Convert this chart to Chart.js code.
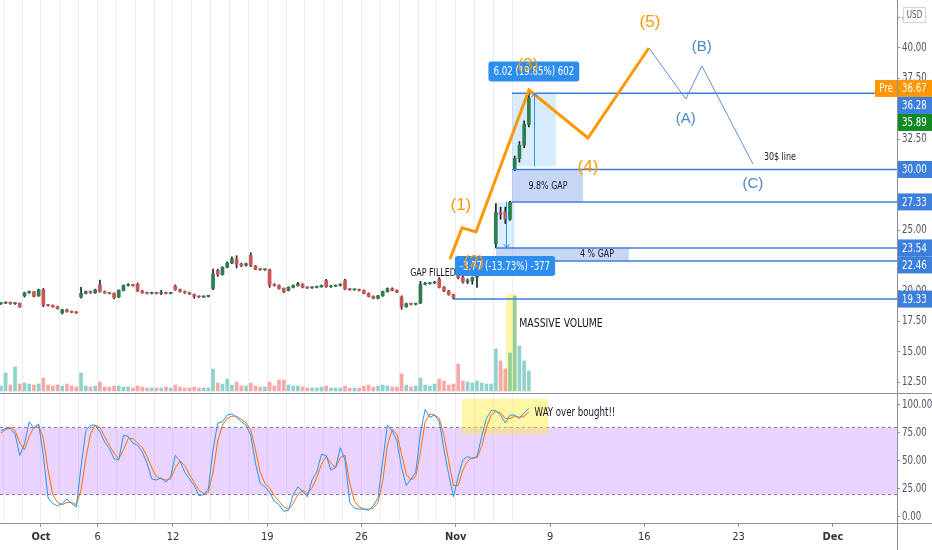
<!DOCTYPE html>
<html>
<head>
<meta charset="utf-8">
<script src="https://cdn.jsdelivr.net/npm/chart.js@4.4.0/dist/chart.umd.min.js"></script>
<style>
  html, body { margin: 0; padding: 0; background: #fff; }
  #wrap { width: 932px; height: 550px; position: relative; }
</style>
</head>
<body>
<div id="wrap"><canvas id="chart"></canvas></div>
<script>
const NARROW = "'DejaVu Sans Condensed', 'DejaVu Sans', sans-serif";
const WAVE_FONT = "'Liberation Sans', Arial, sans-serif";
const SQUEEZE = 0.8;

// x axis = trading-day index (0 = Oct 1, weekends and Thanksgiving skipped)
const tickDays = [0, 3, 7, 12, 17, 22, 27, 32, 37, 42];
const tickLabels = ['Oct', '6', '12', '19', '26', 'Nov', '9', '16', '23', 'Dec'];
const priceTicks = [12.5, 15, 17.5, 20, 22.5, 25, 27.5, 30, 32.5, 35, 37.5, 40, 42.5];
const stochTicks = [0, 25, 50, 75, 100];

// four bars per session, first bar is the last one of Sep 28
const firstBar = -2.125, barStep = 0.25;

const opens = [
  18.95, 19.0, 19.05, 18.95, 19.0,
  19.6, 19.85, 19.95, 19.6,   20.1, 18.85, 18.8, 18.7,   18.2, 18.45, 18.3, 18.25,
  19.5, 19.8, 19.95, 19.85,   20.5, 19.95, 19.85, 19.8,  19.5, 20.05, 20.45, 20.5,
  20.55, 20.0, 19.85, 19.8,   19.85, 19.8, 19.85, 19.8,  20.4, 20.1, 19.95, 19.85,
  19.7, 19.55, 19.5, 19.55,   20.2, 21.7, 21.35, 21.95,  22.3, 22.65, 22.2, 22.1,
  22.95, 22.05, 21.8, 21.75,  21.75, 20.5, 20.45, 20.2,  20.05, 20.3, 20.45, 20.55,
  20.3, 20.25, 20.3, 20.35,   20.85, 20.35, 20.4, 20.45, 20.85, 20.15, 20.1, 20.1,
  20.05, 19.8, 19.55, 19.4,   19.6, 19.95, 20.2, 20.05,  19.5, 18.7, 18.95, 18.9,
  19.0, 20.55, 20.6, 20.65,   20.95, 20.3, 20.0, 19.7,   21.4, 21.1, 20.75, 20.85,
  21.1, 21.5, 21.75, 21.95,   23.9, 26.45, 26.5, 25.9,   30.0, 30.9, 32.0, 33.7
];
const highs = [
  19.05, 19.1, 19.1, 19.05, 19.0,
  19.9, 20.0, 19.95, 20.15,   20.2, 18.9, 18.85, 18.75,  18.5, 18.5, 18.35, 18.3,
  20.3, 20.0, 20.0, 20.15,    20.9, 20.0, 19.9, 19.85,   20.1, 20.5, 20.6, 20.55,
  20.65, 20.05, 19.9, 19.9,   19.9, 20.05, 19.9, 19.85,  20.5, 20.15, 20.0, 19.9,
  19.75, 19.6, 19.6, 19.65,   21.8, 21.8, 22.0, 22.4,    22.8, 22.9, 22.3, 22.3,
  23.15, 22.1, 21.85, 21.8,   21.8, 20.6, 20.5, 20.25,   20.35, 20.5, 20.7, 20.6,
  20.35, 20.35, 20.4, 20.5,   20.95, 20.45, 20.5, 20.6,  20.95, 20.2, 20.15, 20.15,
  20.1, 19.85, 19.6, 19.65,   20.0, 20.25, 20.25, 20.1,  19.6, 19.0, 19.0, 19.0,
  20.8, 20.7, 20.7, 20.8,     21.1, 20.35, 20.05, 19.75, 22.5, 21.2, 21.0, 21.15,
  21.6, 21.8, 22.0, 22.1,     27.2, 26.9, 26.9, 27.4,    31.1, 32.3, 34.0, 36.5
];
const lows = [
  18.9, 18.95, 18.9, 18.9, 18.65,
  19.5, 19.8, 19.5, 19.55,    18.7, 18.75, 18.65, 18.5,  18.1, 18.25, 18.2, 18.15,
  19.4, 19.75, 19.8, 19.8,    19.9, 19.8, 19.75, 19.35,  19.45, 20.0, 20.4, 20.4,
  19.95, 19.8, 19.75, 19.75,  19.75, 19.7, 19.75, 19.75, 20.05, 19.9, 19.8, 19.7,
  19.4, 19.45, 19.45, 19.5,   20.1, 21.2, 21.3, 21.9,    22.25, 21.9, 22.0, 22.05,
  22.0, 21.75, 21.7, 21.7,    20.3, 20.4, 20.15, 19.85,  20.0, 20.25, 20.4, 20.25,
  20.2, 20.2, 20.25, 20.3,    20.3, 20.3, 20.35, 20.4,   20.1, 20.05, 20.05, 20.0,
  19.75, 19.5, 19.35, 19.35,  19.55, 19.9, 20.0, 19.85,  18.5, 18.65, 18.85, 18.85,
  18.95, 20.5, 20.55, 20.6,   20.25, 19.95, 19.65, 19.33, 21.0, 20.65, 20.6, 20.55,
  20.3, 21.45, 21.7, 21.85,   23.55, 25.9, 25.55, 25.8,  29.9, 30.6, 31.8, 33.5
];
const closes = [
  19.0, 19.05, 18.95, 19.0, 18.7,
  19.85, 19.95, 19.55, 20.1,  18.85, 18.8, 18.7, 18.55,  18.45, 18.3, 18.25, 18.2,
  19.8, 19.95, 19.85, 20.1,   19.95, 19.85, 19.8, 19.45, 20.05, 20.45, 20.5, 20.45,
  20.0, 19.85, 19.8, 19.85,   19.8, 19.85, 19.8, 19.8,   20.1, 19.95, 19.85, 19.75,
  19.55, 19.5, 19.55, 19.6,   21.4, 21.35, 21.95, 22.3,  22.65, 22.2, 22.1, 22.25,
  22.1, 21.8, 21.75, 21.75,   20.5, 20.45, 20.2, 19.95,  20.3, 20.45, 20.6, 20.3,
  20.25, 20.3, 20.35, 20.45,  20.35, 20.4, 20.45, 20.55, 20.15, 20.1, 20.1, 20.05,
  19.8, 19.55, 19.4, 19.6,    19.95, 20.2, 20.05, 19.9,  18.7, 18.95, 18.9, 18.95,
  20.55, 20.6, 20.65, 20.7,   20.3, 20.0, 19.7, 19.45,   21.1, 20.75, 20.85, 21.1,
  21.5, 21.75, 21.95, 22.0,   26.45, 26.3, 25.9, 27.3,   30.9, 32.0, 33.7, 35.89
];
const volumes = [
  5, 18, 6, 24, 7,
  8, 7, 6, 7,     13, 6, 5, 6,    5, 7, 5, 4,     18, 5, 4, 5,    9, 4, 4, 5,
  5, 4, 4, 3,     5, 4, 3, 3,     3, 3, 4, 3,     6, 4, 3, 3,     4, 3, 3, 3,
  22, 8, 7, 12,   6, 9, 5, 5,     8, 5, 4, 4,     9, 5, 11, 11,   6, 5, 5, 4,
  3, 3, 3, 4,     5, 3, 3, 3,     5, 3, 3, 3,     5, 6, 4, 5,     6, 5, 4, 4,
  17, 6, 4, 5,    13, 6, 5, 7,    12, 10, 6, 7,   27, 10, 9, 8,   10, 8, 7, 7,
  42, 30, 22, 38, 95, 45, 30, 20
];
const stochK = [
  77, 79, 79, 74, 55,
  65, 85, 79, 83,  55, 17, 12, 10,  12, 16, 12, 9,   45, 77, 82, 82,  76, 67, 61, 52,
  51, 73, 72, 66,  64, 58, 48, 34,  33, 35, 31, 36,  55, 50, 40, 34,  28, 19, 20, 25,
  60, 84, 85, 91,  92, 89, 85, 82,  73, 48, 30, 27,  22, 14, 11, 5,   6, 20, 27, 23,
  18, 33, 40, 56,  55, 42, 44, 62,  51, 13, 8, 7,    7, 6, 10, 17,   50, 82, 77, 68,
  44, 28, 34, 40,  75, 96, 89, 91,  85, 60, 38, 18,  36, 51, 54, 52,  54, 72, 88, 95,
  95, 91, 84, 91,  91, 88, 93, 97
];
const stochD = [
  75, 78, 80, 77, 66,
  60, 72, 80, 82,  70, 42, 20, 13,  11, 13, 13, 11,  24, 52, 74, 82,  80, 72, 64, 57,
  52, 60, 70, 70,  66, 62, 54, 44,  36, 34, 33, 34,  44, 50, 46, 38,  31, 24, 21, 22,
  40, 68, 82, 88,  90, 90, 87, 84,  78, 60, 40, 30,  26, 19, 14, 9,   7, 12, 20, 24,
  21, 26, 35, 47,  54, 48, 44, 53,  55, 30, 14, 9,   7, 7, 8, 13,    32, 64, 78, 74,
  56, 38, 33, 36,  58, 85, 92, 91,  88, 72, 50, 28,  28, 42, 50, 53,  53, 63, 80, 91,
  94, 93, 88, 88,  90, 89, 90, 94
];

// drawings: Elliott count, ABC correction, horizontal rays
const waveX = [21.69, 22.33, 23.07, 25.88, 29.01, 32.24];
const waveY = [22.63, 25.19, 24.86, 36.54, 32.59, 40.0];
const abcX = [32.24, 34.2, 35.05, 37.76];
const abcY = [40.0, 35.8, 38.52, 30.45];
const levels = [36.28, 30.00, 27.33, 23.54, 22.46, 19.33];
const levelFrom = [24.98, 24.98, 24.98, 24.13, 24.13, 21.9];
const lastClose = 35.89, prePrice = 36.67;

const X_MIN = -2.174, X_MAX = 45.4;

// boxes, notes and labels, in data units
const rects = [
  { x: [24.98, 27.31], y: [30.26, 36.28], axis: 'y', fill: 'rgba(33,150,243,0.18)' },
  { x: [24.98, 28.74], y: [27.33, 30.00], axis: 'y', fill: 'rgba(66,120,220,0.30)' },
  { x: [24.13, 25.14], y: [23.54, 27.33], axis: 'y', fill: 'rgba(33,150,243,0.15)' },
  { x: [24.13, 31.18], y: [22.46, 23.54], axis: 'y', fill: 'rgba(66,120,220,0.30)' },
  { x: [24.66, 25.24], y: [0, 97], axis: 'yv', fill: 'rgba(255,235,59,0.45)' },
  { x: [22.33, 26.89], y: [74.1, 105.4], axis: 'ys', fill: 'rgba(255,235,59,0.45)' }
];
const arrows = [
  { x: 26.14, from: 30.26, to: 36.28 },
  { x: 24.66, from: 27.33, to: 23.54 }
];
const pills = [
  { t: '6.02 (19.85%) 602', x: 26.14, y: 38.07 },
  { t: '-3.77 (-13.73%) -377', x: 24.61, y: 22.06 }
];
const notes = [
  { t: '(1)', x: 22.27, y: 27.08, axis: 'y', kind: 'wave' },
  { t: '(2)', x: 22.96, y: 22.39, axis: 'y', kind: 'wave' },
  { t: '(3)', x: 25.83, y: 38.6, axis: 'y', kind: 'wave' },
  { t: '(4)', x: 29.01, y: 30.21, axis: 'y', kind: 'wave' },
  { t: '(5)', x: 32.3, y: 42.14, axis: 'y', kind: 'wave' },
  { t: '(A)', x: 34.2, y: 34.16, axis: 'y', kind: 'abc' },
  { t: '(B)', x: 35.05, y: 40.08, axis: 'y', kind: 'abc' },
  { t: '(C)', x: 37.76, y: 28.8, axis: 'y', kind: 'abc' },
  { t: '30$ line', x: 39.19, y: 31.03, axis: 'y', size: 11 },
  { t: 'GAP FILLED', x: 20.79, y: 21.48, axis: 'y', size: 11 },
  { t: '9.8% GAP', x: 26.89, y: 28.64, axis: 'y', size: 11 },
  { t: '4 % GAP', x: 29.49, y: 23.05, axis: 'y', size: 11 },
  { t: 'MASSIVE VOLUME', x: 27.58, y: 67, axis: 'yv', size: 13 },
  { t: 'WAY over bought!!', x: 28.32, y: 92.9, axis: 'ys', size: 12 }
];

const times = closes.map((_, i) => firstBar + i * barStep);
const up = closes.map((c, i) => c >= opens[i]);
const pts = (xs, ys) => xs.map((x, i) => ({ x, y: ys[i] }));

// narrow text: the chart font is a condensed face, so squeeze it horizontally
function narrowText(ctx, text, x, y, align) {
  ctx.save();
  ctx.translate(x, y);
  ctx.scale(SQUEEZE, 1);
  ctx.textAlign = align || 'center';
  ctx.fillText(text, 0, 0);
  ctx.restore();
}

const overlay = {
  id: 'overlay',
  beforeDatasetsDraw(chart) {
    const { ctx, chartArea: a, scales } = chart;
    const sx = scales.x;
    ctx.save();
    const t = scales.ys.getPixelForValue(80), b = scales.ys.getPixelForValue(20);
    ctx.fillStyle = 'rgba(178,102,255,0.28)';
    ctx.fillRect(a.left, t, a.width, b - t);
    ctx.strokeStyle = '#787b86';
    ctx.lineWidth = 1;
    ctx.setLineDash([3, 3]);
    [t, b].forEach(yy => {
      ctx.beginPath(); ctx.moveTo(a.left, yy); ctx.lineTo(a.right, yy); ctx.stroke();
    });
    ctx.setLineDash([]);
    rects.forEach(r => {
      const s = scales[r.axis];
      const x0 = sx.getPixelForValue(r.x[0]), x1 = sx.getPixelForValue(r.x[1]);
      const y0 = s.getPixelForValue(r.y[1]), y1 = s.getPixelForValue(r.y[0]);
      ctx.fillStyle = r.fill;
      ctx.fillRect(x0, y0, x1 - x0, y1 - y0);
    });
    ctx.restore();
  },
  afterDatasetsDraw(chart) {
    const { ctx, scales } = chart;
    const sx = scales.x;
    ctx.save();
    ctx.strokeStyle = '#2196f3';
    ctx.lineWidth = 1;
    arrows.forEach(r => {
      const x = Math.round(sx.getPixelForValue(r.x)) + 0.5;
      const y0 = scales.y.getPixelForValue(r.from), y1 = scales.y.getPixelForValue(r.to);
      const d = y1 > y0 ? -1 : 1;
      ctx.beginPath(); ctx.moveTo(x, y0); ctx.lineTo(x, y1); ctx.stroke();
      ctx.beginPath(); ctx.moveTo(x - 3, y1 + d * 4); ctx.lineTo(x, y1); ctx.lineTo(x + 3, y1 + d * 4); ctx.stroke();
    });
    ctx.textBaseline = 'middle';
    ctx.font = '12px ' + NARROW;
    pills.forEach(p => {
      const x = sx.getPixelForValue(p.x), y = scales.y.getPixelForValue(p.y);
      const w = ctx.measureText(p.t).width * SQUEEZE + 10;
      ctx.fillStyle = '#2d8ef0';
      ctx.beginPath(); ctx.roundRect(x - w / 2, y - 10, w, 20, 3); ctx.fill();
      ctx.fillStyle = '#fff';
      narrowText(ctx, p.t, x, y + 0.5);
    });
    notes.forEach(n => {
      const x = sx.getPixelForValue(n.x), y = scales[n.axis].getPixelForValue(n.y);
      if (n.kind === 'wave') {
        ctx.font = '17px ' + WAVE_FONT; ctx.fillStyle = '#ff9800';
        ctx.textAlign = 'center'; ctx.fillText(n.t, x, y);
      } else if (n.kind === 'abc') {
        ctx.font = '15px ' + WAVE_FONT; ctx.fillStyle = '#4a86c8';
        ctx.textAlign = 'center'; ctx.fillText(n.t, x, y);
      } else {
        ctx.font = n.size + 'px ' + NARROW; ctx.fillStyle = '#131722';
        narrowText(ctx, n.t, x, y);
      }
    });
    ctx.restore();
  },
  afterDraw(chart) {
    const { ctx, scales, width, height } = chart;
    const sy = scales.y;
    ctx.save();
    ctx.strokeStyle = '#8d9099';
    ctx.lineWidth = 1;
    [sy.bottom, scales.ys.bottom].forEach(yy => {
      const y = Math.round(yy) + 0.5;
      ctx.beginPath(); ctx.moveTo(0, y); ctx.lineTo(width, y); ctx.stroke();
    });
    const ax = Math.round(sy.left) + 0.5;
    ctx.beginPath(); ctx.moveTo(ax, 0); ctx.lineTo(ax, height); ctx.stroke();

    // tick labels of both price panes, placed from the scales' own ticks
    ctx.font = '12px ' + NARROW;
    ctx.textBaseline = 'middle';
    ctx.fillStyle = '#50535e';
    [sy, scales.ys].forEach(s => {
      s.ticks.forEach(tk => narrowText(ctx, tk.value.toFixed(2), s.left + 5, s.getPixelForValue(tk.value), 'left'));
    });

    // price tags on the axis, pushed apart when they collide
    const tags = [{ v: prePrice, bg: '#ff9800', pre: true }, { v: lastClose, bg: '#118a24' }]
      .concat(levels.map(v => ({ v, bg: '#3d7fdc' })))
      .map(tg => ({ ...tg, y: sy.getPixelForValue(tg.v) }))
      .sort((p, q) => p.y - q.y);
    const H = 17;
    let prev = -Infinity;
    tags.forEach(tg => {
      const y = Math.max(tg.y, prev + H);
      prev = y;
      ctx.fillStyle = tg.bg;
      ctx.fillRect(sy.left + 1, y - H / 2, 34, H);
      ctx.fillStyle = '#fff';
      narrowText(ctx, tg.v.toFixed(2), sy.left + 5, y + 0.5, 'left');
      if (tg.pre) {
        ctx.fillStyle = tg.bg;
        ctx.fillRect(sy.left - 22, y - H / 2, 22, H);
        ctx.fillStyle = '#fff';
        narrowText(ctx, 'Pre', sy.left - 11, y + 0.5);
      }
    });
    ctx.fillStyle = '#fff';
    ctx.strokeStyle = '#d1d4dc';
    ctx.fillRect(903, 7, 23, 16);
    ctx.strokeRect(903.5, 7.5, 22, 15);
    ctx.fillStyle = '#50535e';
    ctx.font = '10px ' + NARROW;
    narrowText(ctx, 'USD', 914.5, 15.5);
    ctx.restore();
  }
};

const levelSets = levels.map((v, i) => ({
  type: 'line', yAxisID: 'y', order: 1,
  data: [{ x: levelFrom[i], y: v }, { x: X_MAX, y: v }],
  borderColor: '#3d7fdc', borderWidth: 1.5, pointRadius: 0
}));

const sideAxis = (weight, min, max, ticks) => ({
  type: 'linear', position: 'right', stack: 'pane', stackWeight: weight, min, max,
  afterBuildTicks: s => { s.ticks = ticks.map(v => ({ value: v })); },
  ticks: { color: 'rgba(0,0,0,0)', padding: 1, font: { family: NARROW, size: 10 } },
  grid: { drawOnChartArea: false, tickLength: 3, color: '#8d9099' },
  border: { display: false },
  afterFit: s => { s.width = 35; s.paddingTop = 0; s.paddingBottom = 0; }
});

new Chart(document.getElementById('chart'), {
  type: 'bar',
  data: {
    datasets: [
      {
        label: 'Wave', type: 'line', yAxisID: 'y', order: 0,
        data: pts(waveX, waveY), borderColor: '#ff9800', borderWidth: 3, pointRadius: 0
      },
      {
        label: 'ABC', type: 'line', yAxisID: 'y', order: 0,
        data: pts(abcX, abcY), borderColor: '#5b8fd6', borderWidth: 1, pointRadius: 0
      },
      ...levelSets,
      {
        label: 'Body', yAxisID: 'y', order: 2, grouped: false,
        data: times.map((t, i) => ({ x: t, y: [Math.min(opens[i], closes[i]), Math.max(opens[i], closes[i])] })),
        backgroundColor: up.map(u => u ? '#2e7d50' : '#cc5656'),
        barThickness: 3, minBarLength: 1, borderWidth: 0
      },
      {
        label: 'Wick', yAxisID: 'y', order: 3, grouped: false,
        data: times.map((t, i) => ({ x: t, y: [lows[i], highs[i]] })),
        backgroundColor: '#1e222d', barThickness: 1, borderWidth: 0
      },
      {
        label: 'Volume', yAxisID: 'yv', order: 5, grouped: false,
        data: times.map((t, i) => ({ x: t, y: volumes[i] })),
        backgroundColor: up.map(u => u ? 'rgba(38,166,154,0.5)' : 'rgba(239,83,80,0.5)'),
        barThickness: 3, borderWidth: 0
      },
      {
        label: '%K', type: 'line', yAxisID: 'ys', order: 1,
        data: pts(times, stochK), borderColor: '#2196f3', borderWidth: 1, pointRadius: 0
      },
      {
        label: '%D', type: 'line', yAxisID: 'ys', order: 1,
        data: pts(times, stochD), borderColor: '#ff6d00', borderWidth: 1, pointRadius: 0
      }
    ]
  },
  options: {
    responsive: true,
    maintainAspectRatio: false,
    animation: false,
    events: [],
    layout: { padding: 0 },
    plugins: { legend: { display: false }, tooltip: { enabled: false } },
    scales: {
      x: {
        type: 'linear', min: X_MIN, max: X_MAX, offset: false,
        afterBuildTicks: s => {
          s.ticks = [];
          for (let d = -2; d <= 45; d++) s.ticks.push({ value: d });
        },
        ticks: {
          autoSkip: false, maxRotation: 0, padding: 4, color: '#333',
          font: c => ({ family: NARROW, size: 11, weight: c.tick && isNaN(+c.tick.label) ? 'bold' : 'normal' }),
          callback: v => { const k = tickDays.indexOf(v); return k < 0 ? '' : tickLabels[k]; }
        },
        grid: {
          offset: false, tickLength: 4,
          color: c => c.tick && c.tick.value <= 25 ? '#eceef3' : 'rgba(0,0,0,0)',
          tickColor: c => c.tick && tickDays.includes(c.tick.value) ? '#8d9099' : 'rgba(0,0,0,0)'
        },
        border: { display: false },
        afterFit: s => { s.height = 27; s.paddingLeft = 0; s.paddingRight = 0; }
      },
      y: sideAxis(393, 11.6, 43.95, priceTicks),
      ys: sideAxis(130, -5.36, 110.7, stochTicks),
      yv: { type: 'linear', display: false, position: 'right', min: -132, max: 391 }
    }
  },
  plugins: [overlay]
});
</script>
</body>
</html>
